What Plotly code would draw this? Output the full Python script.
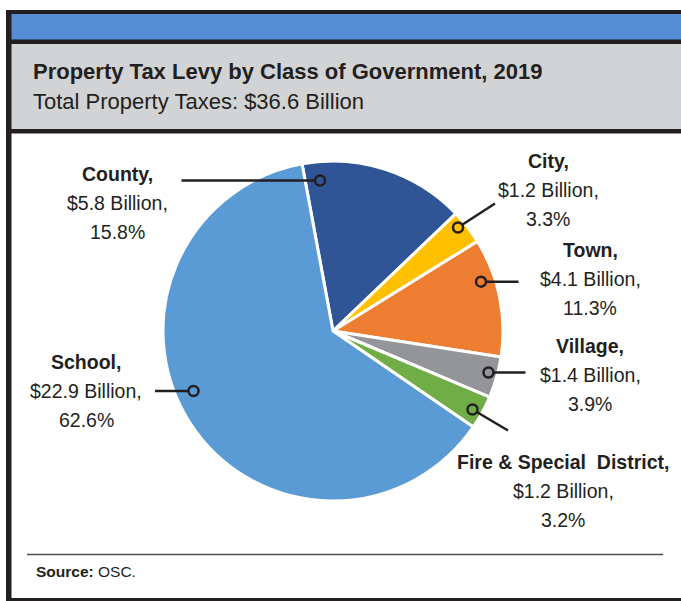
import plotly.graph_objects as go

# ---- data ----
categories = ["County", "City", "Town", "Village", "Fire & Special District", "School"]
label_names = ["County,", "City,", "Town,", "Village,", "Fire &amp; Special&nbsp; District,", "School,"]
billions = [5.8, 1.2, 4.1, 1.4, 1.2, 22.9]
percents = [15.8, 3.3, 11.3, 3.9, 3.2, 62.6]
title_text = "Property Tax Levy by Class of Government, 2019"
subtitle_text = "Total Property Taxes: $36.6 Billion"
source_text = "<b>Source:</b> OSC."

# ---- styles / layout positions (window pixels) ----
W, H = 681, 601
colors = ["#2F5597", "#FFC000", "#ED7D31", "#939598", "#70AD47", "#5B9BD5"]
TXT = "#231F20"
FONT = "Liberation Sans, Arial, sans-serif"

def fx(px):
    return px / W

def fy(py):
    return 1 - py / H

pie_cx, pie_cy, pie_r = 333, 331, 170

# label centre x and first-line y, circle position, leader end
label_pos = [(118, 174), (548, 161), (590, 250), (590, 346), (563, 462), (86, 362)]
circle_pos = [(320, 180.5), (458, 227.5), (481, 281.7), (488.5, 372.5), (472.5, 409.5), (193.5, 391)]
leader_end = [(181.5, 180.5), (495, 203.5), (518.5, 281.7), (525.5, 372.5), (508, 430.5), (155, 391)]
LINE_GAP = 29

fig = go.Figure()
fig.add_trace(go.Pie(
    labels=categories,
    values=percents,
    sort=False,
    direction="clockwise",
    rotation=-10.5,
    marker=dict(colors=colors, line=dict(color="white", width=3)),
    textinfo="none",
    hoverinfo="label+percent",
    showlegend=False,
    domain=dict(x=[fx(pie_cx - pie_r), fx(pie_cx + pie_r)],
                y=[fy(pie_cy + pie_r), fy(pie_cy - pie_r)]),
))

shapes = []
# frame
shapes.append(dict(type="rect", xref="paper", yref="paper", x0=fx(6), x1=fx(720), y0=fy(620), y1=fy(10),
                   fillcolor="#231F20", line=dict(width=0), layer="below"))
shapes.append(dict(type="rect", xref="paper", yref="paper", x0=fx(11.5), x1=fx(720), y0=fy(39.5), y1=fy(14),
                   fillcolor="#558ED5", line=dict(width=0), layer="below"))
shapes.append(dict(type="rect", xref="paper", yref="paper", x0=fx(11.5), x1=fx(720), y0=fy(129), y1=fy(44),
                   fillcolor="#D1D3D4", line=dict(width=0), layer="below"))
shapes.append(dict(type="rect", xref="paper", yref="paper", x0=fx(11.5), x1=fx(720), y0=fy(598), y1=fy(133.5),
                   fillcolor="white", line=dict(width=0), layer="below"))
# source rule
shapes.append(dict(type="line", xref="paper", yref="paper", x0=fx(27), x1=fx(663), y0=fy(554.5), y1=fy(554.5),
                   line=dict(color="#4D4D4F", width=1.5)))

annotations = []
for i in range(len(categories)):
    cx, cy = circle_pos[i]
    ex, ey = leader_end[i]
    dx, dy = cx - ex, cy - ey
    d = (dx ** 2 + dy ** 2) ** 0.5
    rr = 5
    sx, sy = cx - dx / d * rr, cy - dy / d * rr
    shapes.append(dict(type="line", xref="paper", yref="paper", x0=fx(ex), y0=fy(ey), x1=fx(sx), y1=fy(sy),
                       line=dict(color=TXT, width=2.5)))
    shapes.append(dict(type="circle", xref="paper", yref="paper", x0=fx(cx - rr), x1=fx(cx + rr),
                       y0=fy(cy + rr), y1=fy(cy - rr), line=dict(color=TXT, width=2.5),
                       fillcolor="rgba(0,0,0,0)"))
    lx, ly = label_pos[i]
    lines = ["<b>%s</b>" % label_names[i], "$%.1f Billion," % billions[i], "%.1f%%" % percents[i]]
    for k, t in enumerate(lines):
        annotations.append(dict(text=t, xref="paper", yref="paper", x=fx(lx), y=fy(ly + k * LINE_GAP),
                                xanchor="center", yanchor="middle", showarrow=False,
                                font=dict(family=FONT, size=19.5, color=TXT)))

annotations.append(dict(text="<b>%s</b>" % title_text, xref="paper", yref="paper", x=fx(31), y=fy(71),
                        xanchor="left", yanchor="middle", showarrow=False,
                        font=dict(family=FONT, size=22, color=TXT)))
annotations.append(dict(text=subtitle_text, xref="paper", yref="paper", x=fx(31), y=fy(102),
                        xanchor="left", yanchor="middle", showarrow=False,
                        font=dict(family=FONT, size=22, color=TXT)))
annotations.append(dict(text=source_text, xref="paper", yref="paper", x=fx(34), y=fy(571),
                        xanchor="left", yanchor="middle", showarrow=False,
                        font=dict(family=FONT, size=15.5, color=TXT)))

fig.update_layout(
    width=W, height=H,
    margin=dict(l=0, r=0, t=0, b=0),
    paper_bgcolor="white",
    plot_bgcolor="white",
    shapes=shapes,
    annotations=annotations,
    showlegend=False,
)

fig.write_html(
    "out.html",
    config={"displayModeBar": False},
    post_script="document.body.style.margin='0px';document.body.style.overflow='hidden';",
)
